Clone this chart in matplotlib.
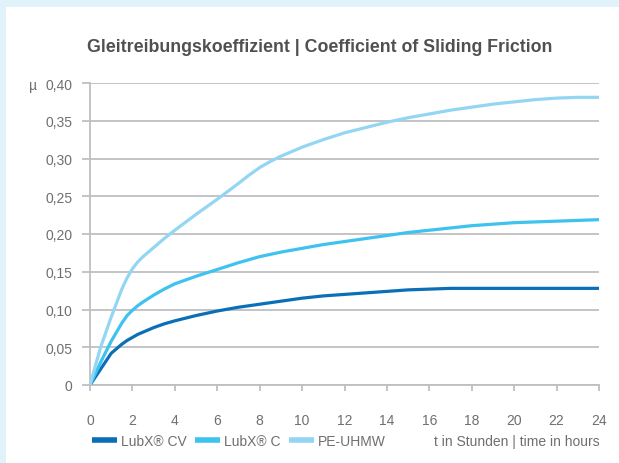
import matplotlib
matplotlib.use("Agg")
from matplotlib import pyplot as plt
from matplotlib.patches import Rectangle

# data
t_hours = [0, 0.5, 1, 1.5, 1.75, 2, 2.25, 2.5, 3, 3.5, 4, 5, 6, 7, 7.5, 8, 8.5, 9,
           10, 11, 12, 13, 14, 15, 16, 17, 18, 19, 20, 21, 22, 23, 24]
mu_lubx_cv = [0, 0.021, 0.042, 0.054, 0.059, 0.063, 0.067, 0.070, 0.076, 0.081,
              0.085, 0.092, 0.098, 0.103, 0.105, 0.107, 0.109, 0.111, 0.115, 0.118,
              0.120, 0.122, 0.124, 0.126, 0.127, 0.128, 0.128, 0.128, 0.128, 0.128,
              0.128, 0.128, 0.128]
mu_lubx_c = [0, 0.030, 0.058, 0.082, 0.092, 0.099, 0.105, 0.110, 0.119, 0.127,
             0.134, 0.144, 0.153, 0.162, 0.166, 0.170, 0.173, 0.176, 0.181, 0.186,
             0.190, 0.194, 0.198, 0.202, 0.205, 0.208, 0.211, 0.213, 0.215, 0.216,
             0.217, 0.218, 0.219]
mu_pe_uhmw = [0, 0.050, 0.090, 0.127, 0.142, 0.154, 0.163, 0.170, 0.182, 0.194,
              0.205, 0.226, 0.246, 0.267, 0.278, 0.288, 0.296, 0.303, 0.315, 0.325,
              0.334, 0.341, 0.348, 0.354, 0.359, 0.364, 0.368, 0.372, 0.375, 0.378,
              0.380, 0.381, 0.381]

series_names = ["LubX\u00ae CV", "LubX\u00ae C", "PE-UHMW"]
series_colors = ["#0b6fb8", "#3ec2ef", "#93d6f4"]
x_ticks = list(range(0, 25, 2))
y_ticks = [0, 0.05, 0.10, 0.15, 0.20, 0.25, 0.30, 0.35, 0.40]
y_labels = ["0", "0,05", "0,10", "0,15", "0,20", "0,25", "0,30", "0,35", "0,40"]

title = "Gleitreibungskoeffizient | Coefficient of Sliding Friction"
x_label = "t in Stunden | time in hours"

plt.rcParams['font.family'] = ['Liberation Sans', 'DejaVu Sans']
txt_col = "#6f6f72"
grid_col = "#bfbfc2"

fig = plt.figure(figsize=(6.19, 4.64), dpi=100, facecolor="#e1f3fa")
fig.patches.append(Rectangle((6/619, 0), 1, 1 - 8/464, transform=fig.transFigure,
                             facecolor="white", edgecolor="none", zorder=-5))

W, H = 619, 464
ax = fig.add_axes([90/W, 1 - 386/H, (599 - 90)/W, (386 - 84)/H], zorder=2)
ax.set_facecolor("none")

for y, name, col in zip([mu_lubx_cv, mu_lubx_c, mu_pe_uhmw], series_names, series_colors):
    ax.plot(t_hours, y, color=col, lw=2.3, label=name, solid_capstyle='butt',
            solid_joinstyle='round', zorder=3)

ax.set_xlim(0, 24)
ax.set_ylim(0, 0.40)
ax.set_xticks(x_ticks)
ax.set_yticks(y_ticks)
ax.set_yticklabels(y_labels)
ax.grid(axis='y', color=grid_col, lw=1.3)
ax.set_axisbelow(True)
for s in ['top', 'right']:
    ax.spines[s].set_visible(False)
for s in ['left', 'bottom']:
    ax.spines[s].set_color(grid_col)
    ax.spines[s].set_linewidth(1.3)
ax.tick_params(axis='y', length=5.5, width=1.3, color=grid_col, pad=7,
               labelcolor=txt_col, labelsize=10)
ax.tick_params(axis='x', length=4, width=1.3, color=grid_col, pad=16,
               labelcolor=txt_col, labelsize=10)

fig.text(320/W, 1 - 48/H, title, ha='center', va='center', fontsize=12.8,
         fontweight='bold', color="#505052")
fig.text(33/W, 1 - 86/H, "\u00b5", ha='center', va='center', fontsize=10, color=txt_col)
fig.text(600/W, 1 - 442/H, x_label, ha='right', va='center', fontsize=10, color=txt_col)

leg = fig.legend(loc='center left', bbox_to_anchor=(86/W, 1 - 442/H), ncol=3,
                 frameon=False, fontsize=10, handlelength=1.8, handletextpad=0.3,
                 columnspacing=0.6, borderaxespad=0)
for h in leg.get_lines():
    h.set_linewidth(4)
for t in leg.get_texts():
    t.set_color(txt_col)

fig.savefig("out.png", dpi=100, facecolor=fig.get_facecolor())
